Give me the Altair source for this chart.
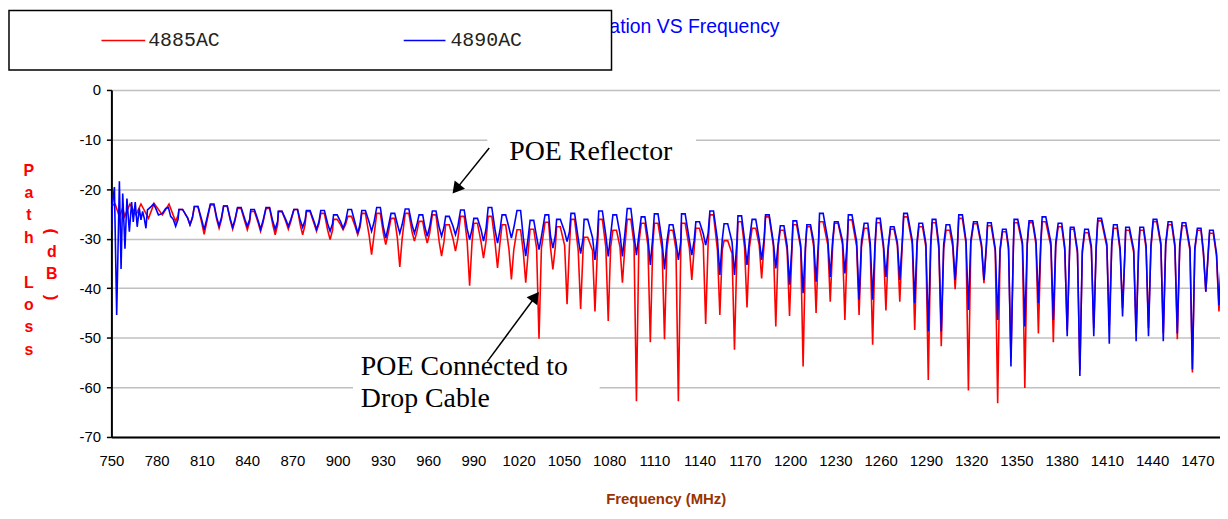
import altair as alt
import pandas as pd

SERIES = ["4885AC", "4890AC"]
COLORS = ["#ff0000", "#0000ff"]

# irregular start of each trace (frequency MHz, path loss dB)
early_red_freq = [750.0, 752.5, 755.3, 757.5, 758.8, 762.3, 766.3, 769.6, 774.6, 778.3, 783.8, 788.2]
early_red_loss = [-23.3, -23.0, -25.6, -23.8, -25.5, -23.0, -25.2, -23.0, -25.9, -22.9, -25.2, -23.0]

early_blue_freq = [750.0, 750.7, 752.0, 753.5, 755.3, 756.4, 757.5, 759.0, 760.3, 761.9, 763.4,
                   764.5, 765.8, 767.1, 768.5, 769.6, 770.7, 771.8, 772.9, 773.9, 776.1, 777.9,
                   779.4, 781.2, 783.8, 786.0, 787.8, 789.3]
early_blue_loss = [-28.5, -23.0, -19.6, -45.4, -18.4, -36.1, -20.9, -32.0, -21.9, -28.6, -22.6,
                   -26.6, -22.6, -27.6, -23.9, -26.2, -24.5, -25.9, -27.9, -24.2, -23.6, -23.0,
                   -23.9, -25.2, -24.9, -23.9, -23.7, -25.5]

# ripple points read per cycle: left shoulder, dip, right shoulder, top start, top end
cycle_freq = [
    791.0, 792.6, 794.2, 794.8, 797.2,
    800.5, 802.1, 803.7, 805.0, 807.4,
    809.9, 811.5, 813.1, 815.6, 818.0,
    819.8, 821.4, 823.0, 824.4, 826.8,
    828.8, 830.4, 832.0, 833.6, 836.0,
    838.5, 840.1, 841.7, 842.4, 844.8,
    847.3, 848.9, 850.5, 852.5, 854.9,
    857.0, 858.6, 860.2, 860.7, 863.1,
    865.7, 867.3, 868.9, 871.0, 873.4,
    875.2, 876.8, 878.4, 879.3, 881.7,
    884.4, 886.0, 887.6, 888.8, 891.2,
    893.4, 895.0, 896.6, 897.3, 899.7,
    902.0, 903.6, 905.2, 906.8, 909.2,
    911.7, 913.3, 914.9, 916.0, 918.4,
    920.9, 922.5, 924.1, 925.9, 928.3,
    930.3, 931.9, 933.5, 935.4, 937.8,
    939.6, 941.2, 942.8, 944.8, 947.2,
    949.3, 950.9, 952.5, 954.0, 956.4,
    957.8, 959.4, 961.0, 962.8, 965.2,
    967.3, 968.9, 970.5, 971.6, 974.0,
    976.5, 978.1, 979.7, 981.5, 983.9,
    985.9, 987.5, 989.1, 990.3, 992.7,
    995.1, 996.7, 998.3, 999.8, 1002.2,
    1004.4, 1006.0, 1007.6, 1009.0, 1011.4,
    1013.6, 1015.2, 1016.8, 1018.9, 1021.3,
    1023.1, 1024.7, 1026.3, 1027.6, 1030.0,
    1031.9, 1033.5, 1035.1, 1037.5, 1039.9,
    1041.1, 1042.7, 1044.3, 1045.2, 1047.6,
    1050.5, 1052.1, 1053.7, 1054.7, 1057.1,
    1059.5, 1061.1, 1062.7, 1063.4, 1065.8,
    1069.0, 1070.6, 1072.2, 1073.1, 1075.5,
    1077.8, 1079.4, 1081.0, 1082.5, 1084.9,
    1087.2, 1088.8, 1090.4, 1092.0, 1094.4,
    1096.5, 1098.1, 1099.7, 1101.3, 1103.7,
    1105.7, 1107.3, 1108.9, 1110.0, 1112.4,
    1115.1, 1116.7, 1118.3, 1119.9, 1122.3,
    1124.3, 1125.9, 1127.5, 1128.0, 1130.4,
    1133.2, 1134.8, 1136.4, 1137.5, 1139.9,
    1142.4, 1144.0, 1145.6, 1146.8, 1149.2,
    1151.8, 1153.4, 1155.0, 1156.2, 1158.6,
    1161.5, 1163.1, 1164.7, 1165.4, 1167.8,
    1169.8, 1171.4, 1173.0, 1174.8, 1177.2,
    1179.5, 1181.1, 1182.7, 1183.7, 1186.1,
    1188.9, 1190.5, 1192.1, 1193.5, 1195.9,
    1198.0, 1199.6, 1201.2, 1201.9, 1204.3,
    1207.0, 1208.6, 1210.2, 1211.1, 1213.5,
    1215.6, 1217.2, 1218.8, 1219.5, 1221.9,
    1225.0, 1226.6, 1228.2, 1229.4, 1231.8,
    1234.7, 1236.3, 1237.9, 1238.6, 1241.0,
    1244.1, 1245.7, 1247.3, 1249.1, 1251.5,
    1253.1, 1254.7, 1256.3, 1257.3, 1259.7,
    1261.9, 1263.5, 1265.1, 1266.5, 1268.9,
    1271.1, 1272.7, 1274.3, 1275.3, 1277.7,
    1281.0, 1282.6, 1284.2, 1285.4, 1287.8,
    1290.0, 1291.6, 1293.2, 1294.2, 1296.6,
    1298.6, 1300.2, 1301.8, 1303.4, 1305.8,
    1307.8, 1309.4, 1311.0, 1311.8, 1314.2,
    1316.6, 1318.2, 1319.8, 1321.6, 1324.0,
    1326.9, 1328.5, 1330.1, 1330.9, 1333.3,
    1336.0, 1337.6, 1339.2, 1340.8, 1343.2,
    1344.8, 1346.4, 1348.0, 1348.5, 1350.9,
    1354.0, 1355.6, 1357.2, 1358.4, 1360.8,
    1363.0, 1364.6, 1366.2, 1367.1, 1369.5,
    1372.9, 1374.5, 1376.1, 1377.7, 1380.1,
    1382.1, 1383.7, 1385.3, 1385.8, 1388.2,
    1390.5, 1392.1, 1393.7, 1395.3, 1397.7,
    1399.7, 1401.3, 1402.9, 1404.0, 1406.4,
    1410.0, 1411.6, 1413.2, 1414.4, 1416.8,
    1418.8, 1420.4, 1422.0, 1422.5, 1424.9,
    1427.8, 1429.4, 1431.0, 1431.9, 1434.3,
    1436.0, 1437.6, 1439.2, 1440.7, 1443.1,
    1445.8, 1447.4, 1449.0, 1450.6, 1453.0,
    1455.1, 1456.7, 1458.3, 1459.9, 1462.3,
    1465.1, 1466.7, 1468.3, 1470.0, 1472.4,
    1474.0, 1475.6, 1477.2, 1478.1, 1480.5,
    1482.7, 1484.3, 1485.9,
]

cycle_red = [
    -25.3, -26.5, -25.3, -24.1, -24.1,
    -25.8, -27.2, -25.8, -23.5, -23.5,
    -26.8, -29.1, -26.8, -23.2, -23.2,
    -26.1, -27.9, -26.1, -23.4, -23.4,
    -26.3, -28.1, -26.3, -23.9, -23.9,
    -26.6, -28.2, -26.6, -24.5, -24.5,
    -26.8, -28.5, -26.8, -23.9, -23.9,
    -27.2, -29.2, -27.2, -24.5, -24.5,
    -26.6, -28.1, -26.6, -24.1, -24.1,
    -27.2, -29.2, -27.2, -24.5, -24.5,
    -27.0, -28.5, -27.0, -24.9, -24.9,
    -28.3, -30.2, -28.3, -26.1, -26.1,
    -27.2, -28.2, -27.2, -25.5, -25.5,
    -27.6, -29.2, -27.6, -24.9, -24.9,
    -29.4, -33.2, -29.4, -24.9, -24.9,
    -28.9, -31.2, -28.9, -25.9, -25.9,
    -29.9, -35.7, -29.9, -24.9, -24.9,
    -28.6, -30.5, -28.6, -26.5, -26.5,
    -28.9, -30.9, -28.9, -25.2, -25.2,
    -30.6, -33.5, -30.6, -27.2, -27.2,
    -30.0, -32.5, -30.0, -25.5, -25.5,
    -30.7, -39.5, -30.7, -26.9, -26.9,
    -30.7, -33.9, -30.7, -25.5, -25.5,
    -30.9, -35.9, -30.9, -27.2, -27.2,
    -32.2, -38.2, -32.2, -28.2, -28.2,
    -32.7, -38.9, -32.7, -28.1, -28.1,
    -31.9, -50.2, -31.9, -26.7, -26.7,
    -31.7, -36.2, -31.7, -27.6, -27.6,
    -31.4, -43.2, -31.4, -26.1, -26.1,
    -32.4, -44.2, -32.4, -29.7, -29.7,
    -32.4, -44.7, -32.4, -26.1, -26.1,
    -31.7, -46.6, -31.7, -28.3, -28.3,
    -31.7, -38.9, -31.7, -26.1, -26.1,
    -31.0, -62.8, -31.0, -26.9, -26.9,
    -31.4, -50.9, -31.4, -26.9, -26.9,
    -32.1, -50.3, -32.1, -28.3, -28.3,
    -32.1, -62.8, -32.1, -26.9, -26.9,
    -31.9, -38.3, -31.9, -27.9, -27.9,
    -31.1, -47.2, -31.1, -25.2, -25.2,
    -32.3, -45.4, -32.3, -30.4, -30.4,
    -33.0, -52.4, -33.0, -26.6, -26.6,
    -31.8, -43.9, -31.8, -27.9, -27.9,
    -31.3, -38.0, -31.3, -25.6, -25.6,
    -31.5, -47.7, -31.5, -28.3, -28.3,
    -32.3, -45.6, -32.3, -27.2, -27.2,
    -31.9, -55.8, -31.9, -27.6, -27.6,
    -31.6, -45.0, -31.6, -26.6, -26.6,
    -31.3, -42.7, -31.3, -26.9, -26.9,
    -31.1, -46.4, -31.1, -26.2, -26.2,
    -31.6, -45.4, -31.6, -27.9, -27.9,
    -31.9, -51.4, -31.9, -26.8, -26.8,
    -32.0, -44.5, -32.0, -28.1, -28.1,
    -31.4, -42.7, -31.4, -25.6, -25.6,
    -31.1, -48.4, -31.1, -27.6, -27.6,
    -31.7, -58.5, -31.7, -26.8, -26.8,
    -32.1, -51.7, -32.1, -28.3, -28.3,
    -31.6, -40.2, -31.6, -25.9, -25.9,
    -31.0, -60.6, -31.0, -27.0, -27.0,
    -31.7, -39.0, -31.7, -27.4, -27.4,
    -32.5, -63.2, -32.5, -28.6, -28.6,
    -32.2, -54.0, -32.2, -26.8, -26.8,
    -31.3, -60.1, -31.3, -26.8, -26.8,
    -31.2, -49.1, -31.2, -26.6, -26.6,
    -31.6, -50.9, -31.6, -27.6, -27.6,
    -32.4, -48.5, -32.4, -28.1, -28.1,
    -33.0, -56.5, -33.0, -28.8, -28.8,
    -32.1, -48.0, -32.1, -26.4, -26.4,
    -31.7, -47.4, -31.7, -27.9, -27.9,
    -32.6, -44.0, -32.6, -28.3, -28.3,
    -32.8, -49.0, -32.8, -28.3, -28.3,
    -32.0, -48.0, -32.0, -26.6, -26.6,
    -31.4, -49.0, -31.4, -27.2, -27.2,
    -31.8, -50.3, -31.8, -27.4, -27.4,
    -32.4, -57.0, -32.4, -28.3, -28.3,
    -33.1, -40.7, -33.1, -28.9, -28.9,
    -33.5, -44.7, -36.0,
]

cycle_blue = [
    -26.1, -27.5, -26.1, -24.1, -24.1,
    -25.8, -27.2, -25.8, -23.5, -23.5,
    -26.2, -28.2, -26.2, -23.0, -23.0,
    -25.7, -27.4, -25.7, -23.4, -23.4,
    -26.0, -27.7, -26.0, -23.7, -23.7,
    -26.1, -27.5, -26.1, -24.1, -24.1,
    -26.4, -28.1, -26.4, -23.7, -23.7,
    -26.5, -28.1, -26.5, -24.5, -24.5,
    -26.2, -27.5, -26.2, -24.1, -24.1,
    -26.3, -27.7, -26.3, -24.3, -24.3,
    -26.6, -28.1, -26.6, -24.3, -24.3,
    -27.0, -28.5, -27.0, -25.2, -25.2,
    -26.6, -27.9, -26.6, -24.1, -24.1,
    -27.0, -28.9, -27.0, -24.3, -24.3,
    -26.7, -28.5, -26.7, -23.7, -23.7,
    -27.7, -29.9, -27.7, -24.9, -24.9,
    -27.1, -28.9, -27.1, -24.0, -24.0,
    -27.2, -28.9, -27.2, -25.2, -25.2,
    -27.6, -29.5, -27.6, -24.4, -24.4,
    -27.7, -29.5, -27.7, -25.5, -25.5,
    -27.5, -29.2, -27.5, -24.2, -24.2,
    -28.1, -30.2, -28.1, -25.9, -25.9,
    -28.2, -30.5, -28.2, -23.7, -23.7,
    -28.3, -30.9, -28.3, -25.2, -25.2,
    -27.8, -29.9, -27.8, -24.3, -24.3,
    -29.8, -33.5, -29.8, -26.3, -26.3,
    -29.6, -32.2, -29.6, -25.2, -25.2,
    -29.4, -31.9, -29.4, -26.1, -26.1,
    -28.6, -30.6, -28.6, -24.9, -24.9,
    -30.0, -33.0, -30.0, -26.1, -26.1,
    -29.8, -34.3, -29.8, -24.4, -24.4,
    -29.3, -33.6, -29.3, -25.2, -25.2,
    -29.1, -33.6, -29.1, -23.9, -23.9,
    -29.3, -33.3, -29.3, -25.6, -25.6,
    -29.8, -35.3, -29.8, -25.0, -25.0,
    -30.6, -36.2, -30.6, -27.2, -27.2,
    -30.6, -34.3, -30.6, -25.0, -25.0,
    -30.3, -33.3, -30.3, -26.6, -26.6,
    -29.0, -31.3, -29.0, -24.4, -24.4,
    -30.2, -37.3, -30.2, -27.0, -27.0,
    -30.7, -37.3, -30.7, -25.4, -25.4,
    -30.3, -35.3, -30.3, -26.1, -26.1,
    -30.2, -34.3, -30.2, -25.2, -25.2,
    -30.8, -36.0, -30.8, -27.4, -27.4,
    -31.4, -39.3, -31.4, -26.4, -26.4,
    -31.3, -41.0, -31.3, -27.2, -27.2,
    -30.6, -38.7, -30.6, -24.9, -24.9,
    -30.3, -37.7, -30.3, -26.6, -26.6,
    -30.4, -37.0, -30.4, -25.2, -25.2,
    -30.6, -42.3, -30.6, -26.9, -26.9,
    -30.9, -42.3, -30.9, -25.9, -25.9,
    -31.3, -37.7, -31.3, -27.6, -27.6,
    -30.8, -38.3, -30.8, -24.9, -24.9,
    -30.4, -43.0, -30.4, -26.9, -26.9,
    -31.0, -48.7, -31.0, -26.1, -26.1,
    -31.2, -48.7, -31.2, -27.2, -27.2,
    -30.7, -38.3, -30.7, -25.2, -25.2,
    -30.4, -44.4, -30.4, -26.6, -26.6,
    -31.2, -38.3, -31.2, -26.8, -26.8,
    -32.0, -46.4, -32.0, -28.1, -28.1,
    -31.6, -55.8, -31.6, -26.1, -26.1,
    -30.8, -47.7, -30.8, -26.4, -26.4,
    -30.5, -43.0, -30.5, -25.6, -25.6,
    -30.8, -46.4, -30.8, -26.9, -26.9,
    -31.8, -49.7, -31.8, -27.7, -27.7,
    -32.4, -57.7, -32.4, -28.1, -28.1,
    -31.5, -49.7, -31.5, -25.9, -25.9,
    -31.1, -51.2, -31.1, -27.2, -27.2,
    -32.0, -45.7, -32.0, -27.7, -27.7,
    -32.2, -50.7, -32.2, -27.7, -27.7,
    -31.4, -49.7, -31.4, -26.1, -26.1,
    -30.9, -50.7, -30.9, -26.6, -26.6,
    -31.2, -49.1, -31.2, -26.8, -26.8,
    -31.9, -56.4, -31.9, -27.9, -27.9,
    -32.6, -40.7, -32.6, -28.3, -28.3,
    -33.0, -43.4, -34.3,
]

x_ticks = [750, 780, 810, 840, 870, 900, 930, 960, 990, 1020, 1050, 1080, 1110, 1140,
           1170, 1200, 1230, 1260, 1290, 1320, 1350, 1380, 1410, 1440, 1470]
y_ticks = [0, -10, -20, -30, -40, -50, -60, -70]

assert len(cycle_freq) == len(cycle_red) == len(cycle_blue)

rows = []
for f, v in zip(early_red_freq + cycle_freq, early_red_loss + cycle_red):
    rows.append({"freq": f, "loss": v, "series": SERIES[0]})
for f, v in zip(early_blue_freq + cycle_freq, early_blue_loss + cycle_blue):
    rows.append({"freq": f, "loss": v, "series": SERIES[1]})
df = pd.DataFrame(rows)

W, H = 1115, 349
x_scale = alt.Scale(domain=[750, 1485], nice=False, zero=False)
y_scale = alt.Scale(domain=[-70, 0], nice=False, zero=False)
SANS = "Liberation Sans"


def one():
    return alt.Data(values=[{"k": 0}])


lines = alt.Chart(df).mark_line(strokeWidth=1.6, clip=True).encode(
    x=alt.X("freq:Q", scale=x_scale,
            axis=alt.Axis(values=x_ticks, title="Frequency (MHz)", grid=False, ticks=False, tickSize=0,
                          labelPadding=17, labelFont=SANS, labelFontSize=15, labelColor="#000000",
                          labelExpr="toString(datum.value)",
                          labelFlush=False, labelOverlap=False, domainColor="#000000", domainWidth=2,
                          titleFont=SANS, titleFontSize=15, titleFontWeight="bold",
                          titleColor="#993300", titlePadding=23)),
    y=alt.Y("loss:Q", scale=y_scale,
            axis=alt.Axis(values=y_ticks, title=None, grid=True, gridColor="#c0c0c0", gridWidth=1.5,
                          tickColor="#000000", tickSize=5, tickWidth=1.5, labelPadding=6,
                          labelFont=SANS, labelFontSize=15, labelColor="#000000",
                          labelExpr="toString(datum.value)", domainColor="#000000", domainWidth=2)),
    color=alt.Color("series:N", scale=alt.Scale(domain=SERIES, range=COLORS), legend=None),
)

# white text boxes of the annotations (they hide the gridlines behind them)
boxes = alt.Chart(pd.DataFrame({
    "freq": [999.2, 910.2], "freq2": [1137.6, 1073.7],
    "loss": [-7.7, -52.4], "loss2": [-16.8, -66.4],
})).mark_rect(fill="white", stroke=None).encode(
    x=alt.X("freq:Q", scale=x_scale), x2="freq2:Q",
    y=alt.Y("loss:Q", scale=y_scale), y2="loss2:Q",
)

arrow_shafts = alt.Chart(pd.DataFrame({
    "freq": [1000.5, 999.2], "freq2": [977.5, 1032.0],
    "loss": [-11.7, -54.8], "loss2": [-20.4, -41.3],
})).mark_rule(color="#000000", strokeWidth=1.5).encode(
    x=alt.X("freq:Q", scale=x_scale), x2="freq2:Q",
    y=alt.Y("loss:Q", scale=y_scale), y2="loss2:Q",
)

arrow_heads = alt.Chart(pd.DataFrame({
    "freq": [978.6, 1031.1], "loss": [-20.0, -41.7], "ang": [219, 37],
})).mark_point(shape="triangle-up", filled=True, color="#000000", size=180, opacity=1).encode(
    x=alt.X("freq:Q", scale=x_scale),
    y=alt.Y("loss:Q", scale=y_scale),
    angle=alt.Angle("ang:Q", scale=None),
)

notes = alt.Chart(pd.DataFrame({
    "freq": [1013.8, 915.4, 915.4],
    "loss": [-12.5, -55.8, -62.4],
    "label": ["POE Reflector", "POE Connected to", "Drop Cable"],
})).mark_text(align="left", baseline="middle", font="Liberation Serif", fontSize=28, color="#000000").encode(
    x=alt.X("freq:Q", scale=x_scale),
    y=alt.Y("loss:Q", scale=y_scale),
    text="label:N",
)

title_text = alt.Chart(one()).mark_text(
    text="Path Loss Variation VS Frequency", align="right", baseline="middle",
    font=SANS, fontSize=19.5, color="#0000ff",
).encode(x=alt.value(672), y=alt.value(-63.75))

legend_box = alt.Chart(one()).mark_rect(fill="white", stroke="#000000", strokeWidth=1.5).encode(
    x=alt.value(-103), x2=alt.value(503), y=alt.value(-80), y2=alt.value(-20)
)
legend_red = alt.Chart(one()).mark_rule(color=COLORS[0], strokeWidth=1.6).encode(
    x=alt.value(-10), x2=alt.value(34), y=alt.value(-49.75)
)
legend_blue = alt.Chart(one()).mark_rule(color=COLORS[1], strokeWidth=1.6).encode(
    x=alt.value(294), x2=alt.value(336), y=alt.value(-49.75)
)
legend_red_label = alt.Chart(one()).mark_text(
    text=SERIES[0], align="left", baseline="middle", font="Liberation Mono", fontSize=20, color="#222222"
).encode(x=alt.value(37), y=alt.value(-49.75))
legend_blue_label = alt.Chart(one()).mark_text(
    text=SERIES[1], align="left", baseline="middle", font="Liberation Mono", fontSize=20, color="#222222"
).encode(x=alt.value(341), y=alt.value(-49.75))

ytitle_path = alt.Chart(one()).mark_text(
    align="center", baseline="alphabetic", font=SANS, fontSize=16, fontWeight="bold",
    color="#ff0000", lineHeight=22.5,
).encode(x=alt.value(-83), y=alt.value(86.25), text=alt.value(["P", "a", "t", "h"]))
ytitle_loss = alt.Chart(one()).mark_text(
    align="center", baseline="alphabetic", font=SANS, fontSize=16, fontWeight="bold",
    color="#ff0000", lineHeight=22.5,
).encode(x=alt.value(-83), y=alt.value(198.75), text=alt.value(["L", "o", "s", "s"]))
ytitle_unit = alt.Chart(one()).mark_text(
    align="center", baseline="alphabetic", font=SANS, fontSize=16, fontWeight="bold",
    color="#ff0000", lineHeight=21.5,
).encode(x=alt.value(-60), y=alt.value(168.25), text=alt.value(["d", "B"]))
ytitle_open = alt.Chart(one()).mark_text(
    text="(", align="center", baseline="middle", angle=90, font=SANS, fontSize=17,
    fontWeight="bold", color="#ff0000",
).encode(x=alt.value(-61), y=alt.value(142.25))
ytitle_close = alt.Chart(one()).mark_text(
    text=")", align="center", baseline="middle", angle=90, font=SANS, fontSize=17,
    fontWeight="bold", color="#ff0000",
).encode(x=alt.value(-61), y=alt.value(208.75))

chart = alt.layer(
    lines, boxes, arrow_shafts, arrow_heads, notes,
    title_text, legend_box, legend_red, legend_blue, legend_red_label, legend_blue_label,
    ytitle_path, ytitle_loss, ytitle_unit, ytitle_open, ytitle_close,
).properties(
    width=W, height=H, padding={"left": 0, "top": 0, "right": 0, "bottom": 0},
    background="white",
).configure_view(stroke=None).configure(font=SANS)

chart.save("out.html", embed_options={"renderer": "svg", "actions": False})
